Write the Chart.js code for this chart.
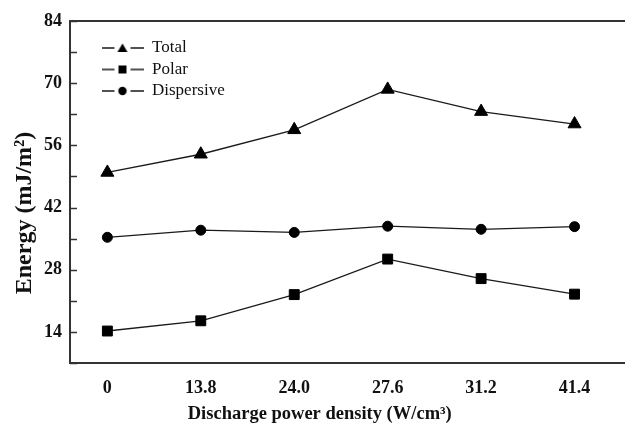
<!DOCTYPE html>
<html>
<head>
<meta charset="utf-8">
<script src="https://cdn.jsdelivr.net/npm/chart.js@4/dist/chart.umd.min.js"></script>
<style>
  html, body { margin: 0; padding: 0; background: #fff; }
  #wrap { width: 625px; height: 425px; }
</style>
</head>
<body>
<div id="wrap"><canvas id="chart"></canvas></div>
<script>
const categories = ["0", "13.8", "24.0", "27.6", "31.2", "41.4"];
const totalEnergy = [49.9, 54.0, 59.5, 68.6, 63.6, 60.8];
const polarEnergy = [14.2, 16.5, 22.4, 30.4, 26.0, 22.5];
const dispersiveEnergy = [35.3, 36.9, 36.4, 37.8, 37.1, 37.7];
const yTicks = [14, 28, 42, 56, 70, 84];

const serif = "'Liberation Serif', 'Times New Roman', serif";
const ink = "#1a1a1a";

// little line+marker icons for the legend
function legendIcon(shape) {
  const c = document.createElement("canvas");
  c.width = 42;
  c.height = 14;
  const g = c.getContext("2d");
  g.strokeStyle = ink;
  g.lineWidth = 1.3;
  g.beginPath();
  g.moveTo(0, 7);
  g.lineTo(13, 7);
  g.moveTo(29, 7);
  g.lineTo(42, 7);
  g.stroke();
  g.fillStyle = "#000";
  g.beginPath();
  if (shape === "triangle") {
    g.moveTo(21, 2.5);
    g.lineTo(26, 11);
    g.lineTo(16, 11);
    g.closePath();
  } else if (shape === "rect") {
    g.rect(17, 3, 8, 8);
  } else {
    g.arc(21, 7, 4.2, 0, Math.PI * 2);
  }
  g.fill();
  return c;
}

function toPoints(values) {
  return values.map((v, i) => ({ x: i, y: v }));
}

function makeSet(label, values, shape, radius) {
  return {
    label: label,
    data: toPoints(values),
    borderColor: ink,
    borderWidth: 1.3,
    pointStyle: shape,
    pointRadius: radius,
    pointHoverRadius: radius,
    pointBackgroundColor: "#000",
    pointBorderColor: "#000",
    pointBorderWidth: 1,
    legendIcon: legendIcon(shape)
  };
}

// y ticks point into the plot, and the legend sits inside the frame
const frameBits = {
  id: "frameBits",
  afterLayout(chart) {
    const lg = chart.legend;
    if (lg) {
      lg.left = chart.chartArea.left + 27;
      lg.top = chart.chartArea.top + 14;
    }
  },
  afterDraw(chart) {
    const y = chart.scales.y;
    const g = chart.ctx;
    g.save();
    g.strokeStyle = "#333";
    g.lineWidth = 1.5;
    y.ticks.forEach((t) => {
      const py = Math.round(y.getPixelForValue(t.value)) + 0.5;
      g.beginPath();
      g.moveTo(y.right, py);
      g.lineTo(y.right + 7, py);
      g.stroke();
    });
    g.restore();
  }
};

const ctx = document.getElementById("chart").getContext("2d");

new Chart(ctx, {
  type: "line",
  data: {
    datasets: [
      makeSet("Total", totalEnergy, "triangle", 7.5),
      makeSet("Polar", polarEnergy, "rect", 7),
      makeSet("Dispersive", dispersiveEnergy, "circle", 5)
    ]
  },
  plugins: [frameBits],
  options: {
    responsive: true,
    maintainAspectRatio: false,
    animation: false,
    layout: { autoPadding: false, padding: { top: 21, right: 0, bottom: 0, left: 0 } },
    plugins: {
      tooltip: { enabled: false },
      legend: {
        position: "chartArea",
        align: "start",
        labels: {
          usePointStyle: true,
          pointStyleWidth: 42,
          padding: 4.5,
          color: "#111",
          font: { family: serif, size: 17 },
          generateLabels: (chart) =>
            chart.data.datasets.map((ds, i) => ({
              text: ds.label,
              pointStyle: ds.legendIcon,
              fontColor: "#111",
              lineWidth: 0,
              datasetIndex: i
            }))
        }
      }
    },
    scales: {
      x: {
        type: "linear",
        position: "bottom",
        min: -0.4,
        max: 5.54,
        afterBuildTicks: (scale) => {
          scale.ticks = categories.map((c, i) => ({ value: i }));
        },
        afterFit: (scale) => {
          scale.height = 62;
          scale.paddingLeft = 0;
          scale.paddingRight = 0;
        },
        grid: { display: false },
        border: { display: true, color: "#333", width: 2 },
        ticks: {
          padding: 7,
          autoSkip: false,
          maxRotation: 0,
          color: "#111",
          font: { family: serif, size: 18, weight: "bold" },
          callback: (v) => categories[v]
        },
        title: {
          display: true,
          text: "Discharge power density (W/cm³)" + "\u00a0".repeat(12),
          color: "#111",
          font: { family: serif, size: 18.5, weight: "bold" },
          padding: { top: 4, bottom: 0 }
        }
      },
      xTop: {
        type: "linear",
        position: "top",
        min: 0,
        max: 1,
        afterFit: (scale) => { scale.height = 0; },
        grid: { display: false },
        ticks: { display: false },
        border: { display: true, color: "#333", width: 2 }
      },
      y: {
        min: 7,
        max: 84,
        afterBuildTicks: (scale) => {
          const t = [];
          for (let v = 7; v <= 84; v += 7) t.push({ value: v });
          scale.ticks = t;
        },
        afterFit: (scale) => {
          scale.width = 70;
          scale.paddingTop = 0;
          scale.paddingBottom = 0;
        },
        grid: { drawOnChartArea: false, drawTicks: false },
        border: { display: true, color: "#333", width: 2 },
        ticks: {
          padding: 8,
          autoSkip: false,
          color: "#111",
          font: { family: serif, size: 18, weight: "bold" },
          callback: (v) => (yTicks.includes(v) ? v : "")
        },
        title: {
          display: true,
          text: "Energy (mJ/m²)" + "\u00a0".repeat(7),
          color: "#111",
          font: { family: serif, size: 24, weight: "bold" },
          padding: { top: 10, bottom: 0 }
        }
      }
    }
  }
});
</script>
</body>
</html>
